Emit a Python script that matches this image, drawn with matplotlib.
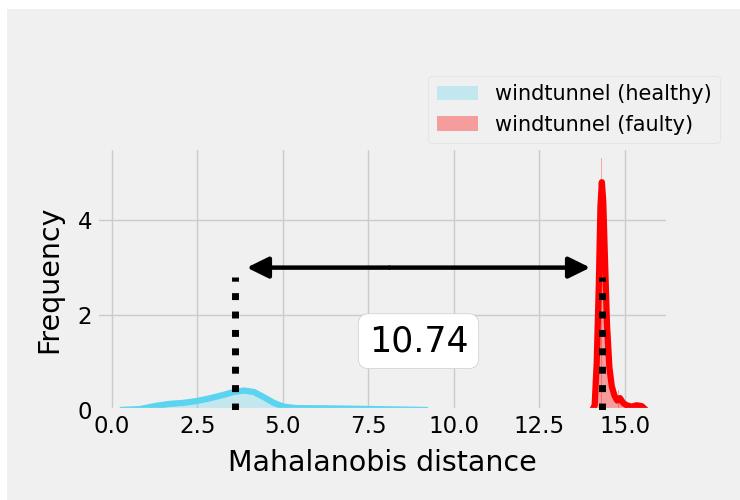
import matplotlib

matplotlib.use("Agg")
import matplotlib.pyplot as plt
from matplotlib.patches import Rectangle

# KDE outline of the healthy windtunnel distances
healthy_x = [0.24, 0.83, 1.32, 1.71, 2.1, 2.5, 2.89, 3.28, 3.57, 3.86, 4.16,
             4.45, 4.74, 5.03, 5.4, 6.2, 6.8, 7.6, 8.5, 9.25]
healthy_y = [0.0, 0.02, 0.09, 0.13, 0.15, 0.19, 0.25, 0.32, 0.38, 0.41, 0.38,
             0.27, 0.15, 0.07, 0.04, 0.035, 0.03, 0.02, 0.01, 0.0]

# KDE outline of the faulty windtunnel distances
faulty_x = [14.05, 14.12, 14.18, 14.24, 14.29, 14.33, 14.37, 14.42, 14.48,
            14.55, 14.62, 14.70, 14.78, 14.86, 14.95, 15.05, 15.2, 15.35,
            15.5, 15.62]
faulty_y = [0.0, 0.1, 1.0, 2.6, 4.3, 4.8, 4.4, 3.2, 1.8, 0.9, 0.5, 0.3, 0.2,
            0.25, 0.15, 0.1, 0.07, 0.1, 0.08, 0.0]

# thin histogram spikes of the faulty set
spike_x = [14.32, 14.83]
spike_y = [5.3, 0.42]

mean_healthy = 3.6
mean_faulty = 14.34
gap_label = "10.74"

plt.style.use("fivethirtyeight")

fig = plt.figure(figsize=(7.4, 5), dpi=100, facecolor="white")
fig.patches.append(Rectangle((7 / 740, 0), 1, 491 / 500, transform=fig.transFigure,
                             facecolor="#f0f0f0", edgecolor="none", zorder=-10))
ax = fig.add_axes([0.131, 0.18, 0.772, 0.524])

blue = "#5bd4ef"
ax.fill_between(healthy_x, healthy_y, color=blue, alpha=0.3, lw=0,
                label="windtunnel (healthy)")
ax.plot(healthy_x, healthy_y, color=blue, lw=4.5, solid_joinstyle="round")

ax.bar(spike_x, spike_y, width=0.03, color="red", alpha=0.3, lw=0)
ax.fill_between(faulty_x, faulty_y, color="red", alpha=0.35, lw=0,
                label="windtunnel (faulty)")
ax.plot(faulty_x, faulty_y, color="red", lw=4.5, solid_joinstyle="round")

# dotted markers at the two means
for m in (mean_healthy, mean_faulty):
    ax.plot([m, m], [0, 2.8], color="black", ls=":", lw=5, zorder=5)

# double arrow between the means
arrow_kw = dict(arrowstyle="-|>,head_length=0.65,head_width=0.32",
                color="black", lw=3.2, mutation_scale=20, shrinkA=0, shrinkB=0)
ax.annotate("", xy=(mean_healthy + 0.35, 3.0), xytext=(8.12, 3.0), arrowprops=arrow_kw)
ax.annotate("", xy=(mean_faulty - 0.35, 3.0), xytext=(8.12, 3.0), arrowprops=arrow_kw)

ax.text((mean_healthy + mean_faulty) / 2, 1.45, gap_label, fontsize=25,
        ha="center", va="center",
        bbox=dict(boxstyle="round,pad=0.3", facecolor="white", edgecolor="#cccccc"))

ax.set_xlim(-0.43, 16.27)
ax.set_ylim(0, 5.52)
ax.set_xticks([0, 2.5, 5, 7.5, 10, 12.5, 15])
ax.set_yticks([0, 2, 4])
ax.tick_params(labelsize=16.5)
ax.set_xlabel("Mahalanobis distance", fontsize=20.5, labelpad=8)
ax.set_ylabel("Frequency", fontsize=20.5, labelpad=10)

fig.legend(loc="upper right", bbox_to_anchor=(0.973, 0.848), borderaxespad=0,
           fontsize=15, facecolor="#f0f0f0", edgecolor="#dddddd")

fig.savefig("out.png", dpi=100, facecolor=fig.get_facecolor())
